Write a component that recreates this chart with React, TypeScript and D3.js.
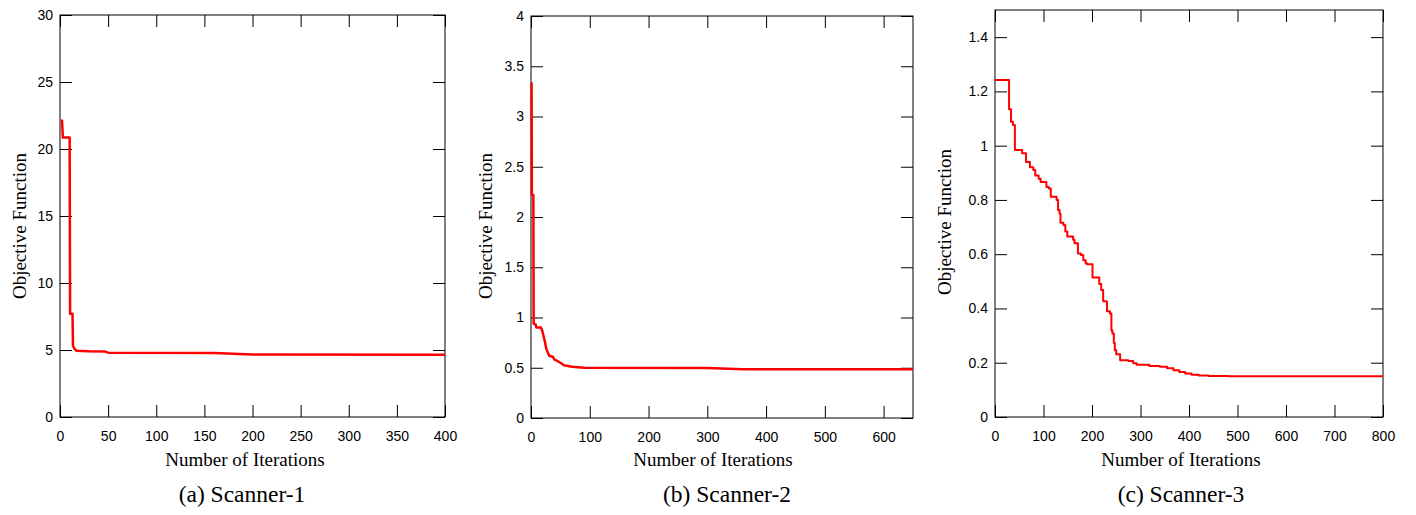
import React, { useEffect, useRef } from 'react';
import * as d3 from 'd3';

// Scanner-1 convergence
const iter1 = [2, 3, 10, 10.5, 13, 13.5, 15, 17, 30, 47, 50, 160, 180, 200, 400];
const value1 = [22.2, 20.85, 20.85, 7.7, 7.7, 5.3, 5.1, 4.95, 4.9, 4.88, 4.8, 4.78, 4.72, 4.66, 4.65];

// Scanner-2 convergence
const iter2 = [0, 1, 1.5, 4, 4.5, 8, 9, 17, 19, 22, 24, 26, 28, 31, 37, 40, 44, 50, 56, 70, 90, 300, 360, 650];
const value2 = [3.33, 3.33, 2.22, 2.22, 0.94, 0.93, 0.9, 0.9, 0.87, 0.8, 0.75, 0.69, 0.66, 0.62, 0.61, 0.58, 0.57, 0.55, 0.525, 0.51, 0.5, 0.497, 0.485, 0.485];

// Scanner-3 convergence (step values)
const iter3 = [0, 29, 33, 37, 41, 56, 64, 72, 79, 83, 90, 94, 106, 111, 115, 127, 130, 133, 135, 141, 145, 149, 161, 164, 171, 177, 182, 187, 190, 201, 215, 219, 223, 230, 231, 237, 240, 242, 245, 247, 250, 258, 275, 285, 292, 318, 340, 355, 368, 380, 392, 405, 420, 440, 480, 800];
const value3 = [1.242, 1.134, 1.088, 1.076, 0.984, 0.972, 0.94, 0.92, 0.91, 0.89, 0.878, 0.866, 0.848, 0.842, 0.812, 0.8, 0.763, 0.75, 0.716, 0.708, 0.684, 0.665, 0.653, 0.64, 0.603, 0.597, 0.578, 0.566, 0.563, 0.514, 0.49, 0.468, 0.427, 0.425, 0.39, 0.381, 0.32, 0.308, 0.273, 0.246, 0.231, 0.209, 0.206, 0.198, 0.193, 0.188, 0.185, 0.18, 0.172, 0.166, 0.16, 0.156, 0.153, 0.151, 0.15, 0.15];

const xTicks1 = [0, 50, 100, 150, 200, 250, 300, 350, 400];
const yTicks1 = [0, 5, 10, 15, 20, 25, 30];
const xTicks2 = [0, 100, 200, 300, 400, 500, 600];
const yTicks2 = [0, 0.5, 1, 1.5, 2, 2.5, 3, 3.5, 4];
const xTicks3 = [0, 100, 200, 300, 400, 500, 600, 700, 800];
const yTicks3 = [0, 0.2, 0.4, 0.6, 0.8, 1, 1.2, 1.4];

const captions = ['(a) Scanner-1', '(b) Scanner-2', '(c) Scanner-3'];

const panels = [
  { iter: iter1, value: value1, xMax: 400, yMax: 30, xTicks: xTicks1, yTicks: yTicks1, curve: d3.curveLinear, lw: 2.5,
    left: 60, right: 445, top: 15, bottom: 417, labelX: 26, labelCy: 226, titleCx: 245, captionCx: 242 },
  { iter: iter2, value: value2, xMax: 650, yMax: 4, xTicks: xTicks2, yTicks: yTicks2, curve: d3.curveLinear, lw: 2.5,
    left: 531, right: 913, top: 16, bottom: 418, labelX: 492, labelCy: 226, titleCx: 713, captionCx: 727 },
  { iter: iter3, value: value3, xMax: 800, yMax: 1.5, xTicks: xTicks3, yTicks: yTicks3, curve: d3.curveStepAfter, lw: 2,
    left: 995, right: 1383, top: 10, bottom: 417, labelX: 951, labelCy: 222, titleCx: 1181, captionCx: 1181 },
];

const TICK = 12;
const sans = '"Liberation Sans", Arial, sans-serif';
const serif = '"Liberation Serif", "Times New Roman", serif';

const App = () => {
  const ref = useRef<SVGSVGElement>(null);

  useEffect(() => {
    const svg = d3.select(ref.current);
    svg.selectAll('*').remove();

    panels.forEach((p, i) => {
      const x = d3.scaleLinear().domain([0, p.xMax]).range([p.left, p.right]);
      const y = d3.scaleLinear().domain([0, p.yMax]).range([p.bottom, p.top]);
      const fmt = (d: any) => `${d}`;
      const g = svg.append('g');

      const styleAxis = (a: any, labels: boolean) => {
        a.select('.domain').remove();
        a.selectAll('line').attr('stroke', '#000').attr('stroke-width', 1);
        a.selectAll('text')
          .attr('fill', '#000')
          .style('font-family', sans)
          .style('font-size', '14px');
        if (!labels) a.selectAll('text').remove();
      };

      g.append('g')
        .attr('transform', `translate(0,${p.bottom})`)
        .call(d3.axisBottom(x).tickValues(p.xTicks).tickFormat(fmt).tickSize(-TICK).tickPadding(14))
        .call((a: any) => styleAxis(a, true));
      g.append('g')
        .attr('transform', `translate(0,${p.top})`)
        .call(d3.axisTop(x).tickValues(p.xTicks).tickSize(-TICK))
        .call((a: any) => styleAxis(a, false));
      g.append('g')
        .attr('transform', `translate(${p.left},0)`)
        .call(d3.axisLeft(y).tickValues(p.yTicks).tickFormat(fmt).tickSize(-TICK).tickPadding(7))
        .call((a: any) => styleAxis(a, true));
      g.append('g')
        .attr('transform', `translate(${p.right},0)`)
        .call(d3.axisRight(y).tickValues(p.yTicks).tickSize(-TICK))
        .call((a: any) => styleAxis(a, false));

      g.append('rect')
        .attr('x', p.left)
        .attr('y', p.top)
        .attr('width', p.right - p.left)
        .attr('height', p.bottom - p.top)
        .attr('fill', 'none')
        .attr('stroke', '#000')
        .attr('stroke-width', 1);

      const pts = p.iter.map((it, k) => [it, p.value[k]] as [number, number]);
      const line = d3.line<[number, number]>()
        .x(d => x(d[0]))
        .y(d => y(d[1]))
        .curve(p.curve);
      g.append('path')
        .attr('d', line(pts))
        .attr('fill', 'none')
        .attr('stroke', '#ff0000')
        .attr('stroke-width', p.lw)
        .attr('stroke-linejoin', 'round');

      g.append('text')
        .attr('transform', `translate(${p.labelX},${p.labelCy}) rotate(-90)`)
        .attr('text-anchor', 'middle')
        .style('font-family', serif)
        .style('font-size', '19px')
        .text('Objective Function');

      g.append('text')
        .attr('x', p.titleCx)
        .attr('y', 466)
        .attr('text-anchor', 'middle')
        .style('font-family', serif)
        .style('font-size', '19px')
        .text('Number of Iterations');

      g.append('text')
        .attr('x', p.captionCx)
        .attr('y', 502)
        .attr('text-anchor', 'middle')
        .style('font-family', serif)
        .style('font-size', '23.5px')
        .text(captions[i]);
    });
  }, []);

  return (
    <svg ref={ref} width={1416} height={515}
      style={{ position: 'absolute', left: 0, top: 0, background: '#fff' }}></svg>
  );
};

export default App;
